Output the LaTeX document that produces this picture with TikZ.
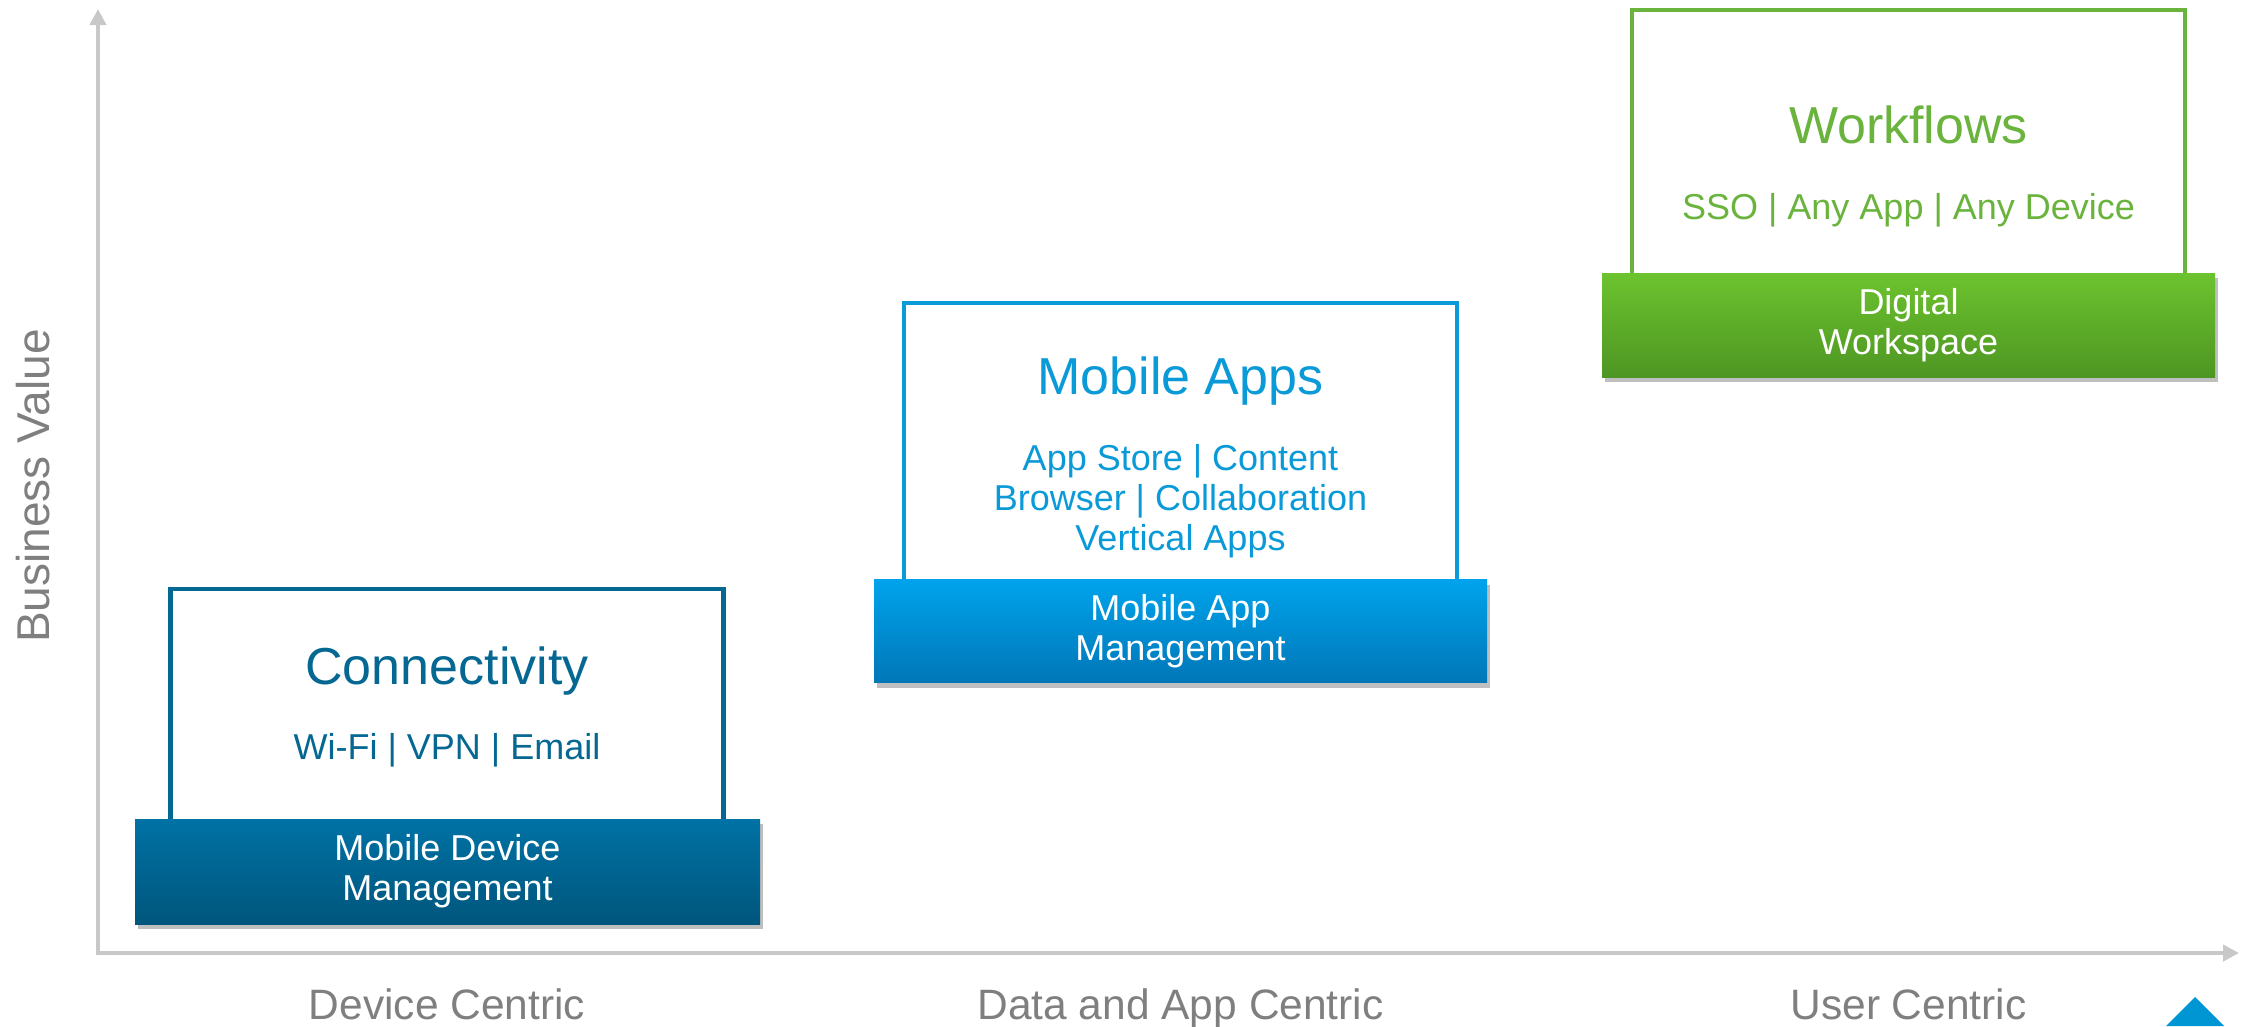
\documentclass[tikz,border=0pt]{standalone}
\usepackage{fontspec}
\setmainfont{Liberation Sans}
\usetikzlibrary{arrows.meta,shadows}
\definecolor{axisgray}{HTML}{C8C8C8}
\definecolor{labelgray}{HTML}{7F7F7F}
\definecolor{cA}{HTML}{056893}
\definecolor{cAtop}{HTML}{0072A5}
\definecolor{cAbot}{HTML}{00567C}
\definecolor{cB}{HTML}{0A9AD8}
\definecolor{cBtop}{HTML}{00A3EC}
\definecolor{cBbot}{HTML}{0077B7}
\definecolor{cC}{HTML}{6AB43E}
\definecolor{cCtop}{HTML}{6CC32E}
\definecolor{cCbot}{HTML}{4E9623}
\definecolor{tri}{HTML}{0096D4}
\begin{document}
\begin{tikzpicture}[x=1pt,y=-1pt,
  axis/.style={draw=axisgray, line width=4pt, -{Triangle[width=16pt,length=16pt]}},
  outline/.style={draw=#1, line width=4.5pt, fill=white, inner sep=0pt, minimum width=553pt},
  band/.style={inner sep=0pt, text=white, align=center,
    font=\fontsize{36}{40}\selectfont, top color=#1top, bottom color=#1bot,
    drop shadow={opacity=0.25, shadow xshift=3pt, shadow yshift=-5pt, fill=black}},
  title/.style={text=#1, font=\fontsize{52}{60}\selectfont, inner sep=0pt},
  sub/.style={text=#1, font=\fontsize{36}{40}\selectfont, align=center, inner sep=0pt},
  axlabel/.style={text=labelgray, font=\fontsize{42.5}{48}\selectfont, inner sep=0pt,
    text height=31pt, text depth=9pt}]
\useasboundingbox (0,0) rectangle (2242,1026);

% axes
\coordinate (origin) at (98,955);
\coordinate (xstart) at (96,953);
\coordinate (ytip) at (98,9);
\coordinate (xtip) at (2239,953);
\draw[axis] (origin) -- (ytip);
\draw[axis] (xstart) -- (xtip);

% column 1
\node[outline=cA, minimum height=261pt] (box1) at (447,719.5) {};
\node[band=cA, minimum width=625pt, minimum height=105pt] (band1) at (447.5,871.5)
  {Mobile Device\\Management};
\node[title=cA] (t1) at (447,671) {Connectivity};
\node[sub=cA] (s1) at (447,750) {Wi-Fi | VPN | Email};

% column 2
\node[outline=cB, minimum height=317pt] (box2) at (1180.5,461.5) {};
\node[band=cB, minimum width=613pt, minimum height=103pt] (band2) at (1180.5,631)
  {Mobile App\\Management};
\node[title=cB] (t2) at (1180.5,381) {Mobile Apps};
\node[sub=cB] (s2) at (1180.5,501) {App Store | Content\\Browser | Collaboration\\Vertical Apps};

% column 3
\node[outline=cC, minimum height=310pt] (box3) at (1908.5,165) {};
\node[band=cC, minimum width=613pt, minimum height=104pt] (band3) at (1908.5,325)
  {Digital\\Workspace};
\node[title=cC] (t3) at (1908.5,125) {Workflows};
\node[sub=cC] (s3) at (1908.5,210) {SSO | Any App | Any Device};

% axis labels
\node[axlabel, rotate=90, font=\fontsize{46}{52}\selectfont] (yl) at (38,486) {Business Value};
\node[axlabel] (xl1) at (447,1008) {Device Centric};
\node[axlabel] (xl2) at (1180.5,1008) {Data and App Centric};
\node[axlabel] (xl3) at (1908.5,1008) {User Centric};

% corner mark
\fill[tri] (2166,1026) -- (2195,997) -- (2224,1026) -- cycle;
\end{tikzpicture}
\end{document}
